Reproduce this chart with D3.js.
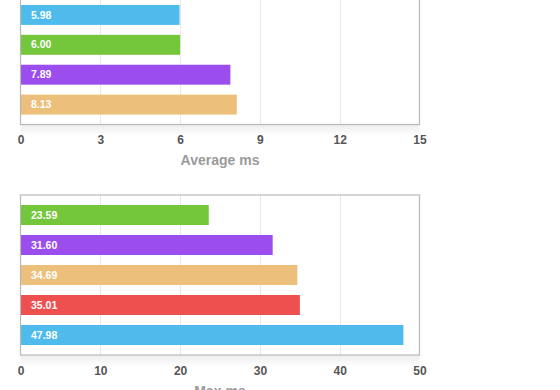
<html>
<head>
<meta charset="utf-8">
<style>
  body { margin: 0; background: #fff; }
  svg { display: block; font-family: "Liberation Sans", Arial, sans-serif; }
  .grid line { stroke: #e8e8e8; stroke-width: 1px; }
  .frame { fill: none; stroke: #b8b8b8; stroke-width: 1.2px; }
  .tick text { fill: #555; font-size: 12px; font-weight: bold; }
  .title { fill: #9a9a9a; font-size: 14px; font-weight: bold; }
  .val { fill: #fff; font-size: 10.5px; font-weight: bold; }
</style>
</head>
<body>
<script src="https://cdn.jsdelivr.net/npm/d3@7"></script>
<script>
// top chart: average ms (only the visible bars)
var avgNames  = ["a", "b", "c", "d"];
var avgValues = [5.98, 6.00, 7.89, 8.13];
var avgColors = ["#4ebbec", "#74c63a", "#9b4ded", "#ecc07b"];
var avgTicks  = [0, 3, 6, 9, 12, 15];

// bottom chart: max ms
var maxNames  = ["a", "b", "c", "d", "e"];
var maxValues = [23.59, 31.60, 34.69, 35.01, 47.98];
var maxColors = ["#74c63a", "#9b4ded", "#ecc07b", "#ee4f4f", "#4ebbec"];
var maxTicks  = [0, 10, 20, 30, 40, 50];

var width = 560, height = 390;
var svg = d3.select("body").append("svg")
    .attr("width", width)
    .attr("height", height);

var defs = svg.append("defs");
var grad = defs.append("linearGradient")
    .attr("id", "shade").attr("x1", 0).attr("y1", 0).attr("x2", 0).attr("y2", 1);
grad.append("stop").attr("offset", "0%").attr("stop-color", "#000").attr("stop-opacity", 0.07);
grad.append("stop").attr("offset", "100%").attr("stop-color", "#000").attr("stop-opacity", 0);

function drawChart(names, values, colors, ticks, top, bottom, title) {
  var x = d3.scaleLinear().domain([ticks[0], ticks[ticks.length - 1]]).range([20.5, 419.5]);
  var y = d3.scaleBand().domain(names).range([top, bottom])
      .paddingInner(1 / 3).paddingOuter(1 / 3);

  var g = svg.append("g");

  // soft shadow under the frame
  g.append("rect")
      .attr("x", x.range()[0]).attr("y", bottom)
      .attr("width", x.range()[1] - x.range()[0]).attr("height", 12)
      .attr("fill", "url(#shade)");

  g.append("g").attr("class", "grid")
    .selectAll("line")
    .data(ticks.slice(1, -1))
    .join("line")
      .attr("x1", d => Math.round(x(d)) + 0.5).attr("x2", d => Math.round(x(d)) + 0.5)
      .attr("y1", top).attr("y2", bottom);

  g.append("g")
    .selectAll("rect")
    .data(values)
    .join("rect")
      .attr("x", x(0))
      .attr("y", (d, i) => y(names[i]))
      .attr("width", d => x(d) - x(0))
      .attr("height", y.bandwidth())
      .attr("fill", (d, i) => colors[i]);

  g.append("g")
    .selectAll("text")
    .data(values)
    .join("text")
      .attr("class", "val")
      .attr("x", x(0) + 10.5)
      .attr("y", (d, i) => y(names[i]) + y.bandwidth() / 2)
      .attr("dy", "0.35em")
      .text(d => d.toFixed(2));

  g.append("rect").attr("class", "frame")
      .attr("x", x.range()[0]).attr("y", top)
      .attr("width", x.range()[1] - x.range()[0])
      .attr("height", bottom - top);

  var axis = g.append("g")
      .attr("transform", "translate(0," + bottom + ")")
      .call(d3.axisBottom(x).tickValues(ticks).tickSize(0).tickPadding(11));
  axis.select(".domain").remove();
  axis.selectAll("text").attr("font-family", null).attr("font-size", null).attr("fill", null);

  g.append("text").attr("class", "title")
      .attr("x", (x.range()[0] + x.range()[1]) / 2)
      .attr("y", bottom + 40.5)
      .attr("text-anchor", "middle")
      .text(title);
}

drawChart(avgNames, avgValues, avgColors, avgTicks, -5, 124.5, "Average ms");
drawChart(maxNames, maxValues, maxColors, maxTicks, 195, 355, "Max ms");
</script>
</body>
</html>
